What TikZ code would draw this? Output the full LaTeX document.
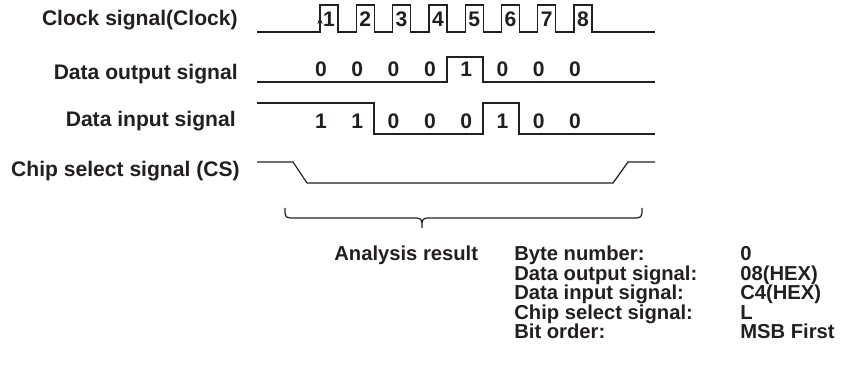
\documentclass[tikz,border=0pt]{standalone}
\usepackage{fontspec}
\setmainfont{Liberation Sans}
\usetikzlibrary{arrows.meta}
\definecolor{inkx}{HTML}{231F20}
\tikzset{
  sig/.style={line width=0.7pt,inkx,line join=miter},
  lbl/.style={font=\fontsize{12}{14}\selectfont\bfseries,text=inkx,inner sep=0pt,anchor=base east},
  bit/.style={font=\fontsize{12}{14}\selectfont\bfseries,text=inkx,inner sep=0pt,anchor=base},
  res/.style={font=\fontsize{11.5}{13}\selectfont\bfseries,text=inkx,inner sep=0pt,anchor=base west}
}
\begin{document}
\begin{tikzpicture}[x=0.02cm,y=-0.02cm]
\useasboundingbox (0,0) rectangle (863,367);
% signal names
\node[lbl] (clk) at (238,26) {Clock signal(Clock)};
\node[lbl] (dout) at (238,80) {Data output signal};
\node[lbl] (din) at (236,127) {Data input signal};
\node[lbl] (cs) at (240,177) {Chip select signal (CS)};
% clock
\draw[sig] (257,32) foreach \k in {0,...,7} {
  -- ({320+36.3*\k},32) -- ({320+36.3*\k},5) -- ({338+36.3*\k},5) -- ({338+36.3*\k},32)
  } -- (655,32);
\draw[sig,-{Stealth[length=4pt,width=3pt]}] (320,30) -- (320,17);
\foreach \n [count=\k from 0] in {1,...,8}
  \node[bit] (c\n) at ({329+36.3*\k},27) {\n};
% data output
\draw[sig] (257,82) -- (447,82) -- (447,57) -- (483,57) -- (483,82) -- (655,82);
\foreach \b [count=\k from 0] in {0,0,0,0,1,0,0,0}
  \node[bit] (o\k) at ({321+36.3*\k},77) {\b};
% data input
\draw[sig] (257,103) -- (374,103) -- (374,134) -- (483,134) -- (483,103) -- (519,103)
  -- (519,134) -- (655,134);
\foreach \b [count=\k from 0] in {1,1,0,0,0,1,0,0}
  \node[bit] (i\k) at ({321+36.3*\k},129) {\b};
% chip select
\draw[sig] (257,162) -- (293,162) -- (307,183) -- (613,183) -- (628,162) -- (655,162);
% brace
\draw[sig] (285,208) .. controls (285,218) .. (295,218) -- (412,218)
  .. controls (422,218) .. (422,228) .. controls (422,218) .. (432,218)
  -- (632,218) .. controls (642,218) .. (642,208);
% analysis result
\node[res] (ana) at (334,261) {Analysis result};
\node[res] (r1) at (514,261) {Byte number:};
\node[res] (r2) at (514,280.5) {Data output signal:};
\node[res] (r3) at (514,300) {Data input signal:};
\node[res] (r4) at (514,319.5) {Chip select signal:};
\node[res] (r5) at (514,339) {Bit order:};
\node[res] (v1) at (740,261) {0};
\node[res] (v2) at (740,280.5) {08(HEX)};
\node[res] (v3) at (740,300) {C4(HEX)};
\node[res] (v4) at (740,319.5) {L};
\node[res] (v5) at (740,339) {MSB First};
\end{tikzpicture}
\end{document}
